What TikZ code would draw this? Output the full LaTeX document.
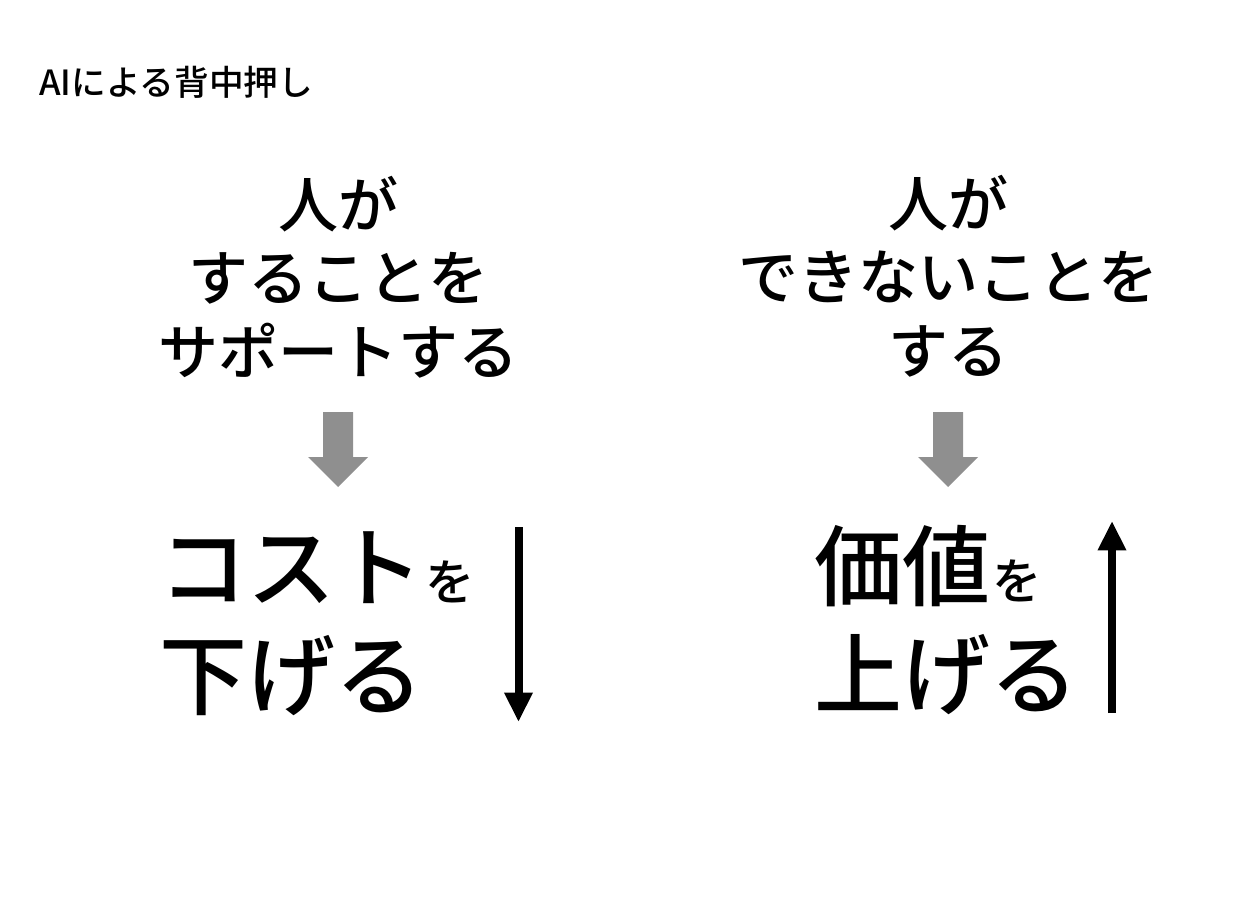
\documentclass[tikz,border=0pt]{standalone}
\usepackage{fontspec}
\setmainfont{Noto Sans CJK JP}[BoldFont={Noto Sans CJK JP Medium}]
\usetikzlibrary{arrows.meta}
\definecolor{arrowgray}{RGB}{143,143,143}
\tikzset{
  headline/.style={font=\fontsize{26}{30}\selectfont\bfseries, anchor=base west, inner sep=0},
  premise/.style={font=\fontsize{45}{55}\selectfont\bfseries, align=center, inner sep=0},
  outcome/.style={font=\fontsize{66}{81}\selectfont\bfseries, align=left, inner sep=0},
  trend/.style={line width=6pt, -{Triangle[length=22pt,width=20pt]}},
}
\newcommand{\smallwo}{{\fontsize{37}{40}\selectfont\hspace{2pt}を}}
\begin{document}
\begin{tikzpicture}[x=0.75pt,y=-0.75pt]
      \useasboundingbox (0,0) rectangle (1233,924);
      \node[headline] (title) at (39,96) {AIによる背中押し};
      \node[premise] (support) at (338,277) {人が\\することを\\サポートする};
      \node[premise] (beyond) at (948,276) {人が\\できないことを\\する};
      \node[outcome] (cost) at (317,624) {コスト\smallwo\\下げる};
      \node[outcome] (value) at (946,620) {価値\smallwo\\上げる};
      \coordinate (ga) at (338,412);
      \coordinate (gb) at (948,412);
      \fill[arrowgray] (ga) ++(-15,0) -- ++(30,0) -- ++(0,45) -- ++(15,0) -- ++(-30,30) -- ++(-30,-30) -- ++(15,0) -- cycle;
      \fill[arrowgray] (gb) ++(-15,0) -- ++(30,0) -- ++(0,45) -- ++(15,0) -- ++(-30,30) -- ++(-30,-30) -- ++(15,0) -- cycle;
      \coordinate (downtop) at (518.5,527);
      \coordinate (downtip) at (518.5,722);
      \coordinate (upfoot) at (1112,713);
      \coordinate (uptip) at (1112,521);
      \draw[trend] (downtop) -- (downtip);
      \draw[trend] (upfoot) -- (uptip);
    \end{tikzpicture}
\end{document}
